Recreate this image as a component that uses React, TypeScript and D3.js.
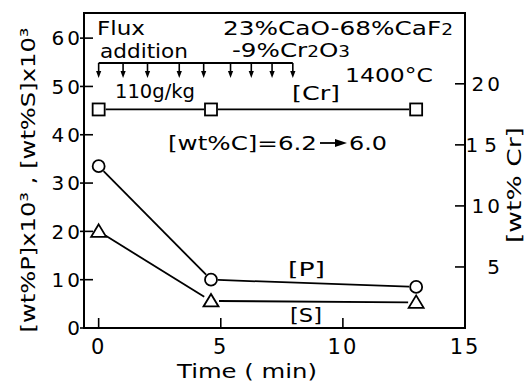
import * as d3 from "d3";

// sampling times (min)
const times = [0, 4.6, 13];
// [wt%P]x10^3 (circles)
const pValues = [33.5, 10.0, 8.5];
// [wt%S]x10^3 (triangles)
const sValues = [20.0, 5.6, 5.3];
// [wt%Cr] (squares, right axis)
const crValues = [17.9, 17.9, 17.9];
// times of the flux addition arrows
const fluxTimes = [0, 1, 2, 3.3, 4.3, 5.4, 6.25, 7.1, 7.95];

const xTicks = [0, 5, 10, 15];
const leftTicks = [0, 10, 20, 30, 40, 50, 60];
const rightTicks = [5, 10, 15, 20];

const W = 527;
const H = 383;
const frame = { left: 84, right: 465, top: 13, bottom: 328 };
const FONT = "'DejaVu Sans', sans-serif";

const x = d3.scaleLinear().domain([-0.6, 15]).range([frame.left, frame.right]);
const yL = d3.scaleLinear().domain([0, 65.2]).range([frame.bottom, frame.top]);
const yR = d3.scaleLinear().domain([0, 25.8]).range([frame.bottom, frame.top]);

// line segments between markers, shortened so they stop at the marker edge
const gapSegments = (pts: [number, number][], gap: number) =>
	d3.pairs(pts).map(([a, b]) => {
		const dx = b[0] - a[0];
		const dy = b[1] - a[1];
		const len = Math.hypot(dx, dy);
		const ux = dx / len;
		const uy = dy / len;
		return [a[0] + ux * gap, a[1] + uy * gap, b[0] - ux * gap, b[1] - uy * gap];
	});

const Label = ({
	x0,
	y0,
	len,
	size = 20,
	children,
}: {
	x0: number;
	y0: number;
	len: number;
	size?: number;
	children: any;
}) => (
	<text
		x={x0}
		y={y0}
		fontSize={size}
		fontFamily={FONT}
		textLength={len}
		lengthAdjust="spacingAndGlyphs"
		fill="#000"
	>
		{children}
	</text>
);

export default function App() {
	const pPts = times.map((t, i) => [x(t), yL(pValues[i])] as [number, number]);
	const sPts = times.map((t, i) => [x(t), yL(sValues[i])] as [number, number]);
	const crPts = times.map((t, i) => [x(t), yR(crValues[i])] as [number, number]);
	const fluxY = 63;

	return (
		<svg
			width={W}
			height={H}
			style={{ position: "absolute", left: 0, top: 0, background: "#fff" }}
		>
			{/* frame */}
			<rect
				x={frame.left}
				y={frame.top}
				width={frame.right - frame.left}
				height={frame.bottom - frame.top}
				fill="none"
				stroke="#000"
				strokeWidth={2}
			/>

			{/* left axis ticks */}
			{leftTicks.map((v) => (
				<g key={"l" + v}>
					<line x1={frame.left - 4} x2={frame.left + 9} y1={yL(v)} y2={yL(v)} stroke="#000" strokeWidth={1.6} />
					<text
						x={83}
						y={yL(v)}
						dy="0.36em"
						textAnchor="end"
						fontSize={20}
						letterSpacing={3}
						fontFamily={FONT}
					>
						{v}
					</text>
				</g>
			))}

			{/* right axis ticks */}
			{rightTicks.map((v) => (
				<g key={"r" + v}>
					<line x1={frame.right - 10} x2={frame.right} y1={yR(v)} y2={yR(v)} stroke="#000" strokeWidth={1.6} />
					<text
						x={503}
						y={yR(v)}
						dy="0.36em"
						textAnchor="end"
						fontSize={20}
						letterSpacing={v === 15 ? 6 : 3}
						fontFamily={FONT}
					>
						{v}
					</text>
				</g>
			))}

			{/* bottom axis ticks */}
			{xTicks.map((v) => (
				<g key={"x" + v}>
					{v < 15 && (
						<line x1={x(v)} x2={x(v)} y1={frame.bottom} y2={frame.bottom - 10} stroke="#000" strokeWidth={1.6} />
					)}
					<text
						x={x(v)}
						y={354}
						textAnchor="middle"
						fontSize={21}
						letterSpacing={2}
						fontFamily={FONT}
					>
						{v}
					</text>
				</g>
			))}

			{/* axis titles */}
			<text
				transform="translate(28,180) rotate(-90)"
				textAnchor="middle"
				dominantBaseline="central"
				fontSize={20}
				fontFamily={FONT}
				textLength={305}
				lengthAdjust="spacingAndGlyphs"
			>
				[wt%P]x10³ , [wt%S]x10³
			</text>
			<text
				transform="translate(514,185) rotate(-90)"
				textAnchor="middle"
				dominantBaseline="central"
				fontSize={19}
				fontFamily={FONT}
				textLength={116}
				lengthAdjust="spacingAndGlyphs"
			>
				[wt% Cr]
			</text>
			<Label x0={177} y0={378} len={140} size={19}>
				Time ( min)
			</Label>

			{/* flux addition */}
			<Label x0={97} y0={35} len={48}>Flux</Label>
			<Label x0={100} y0={58} len={88}>addition</Label>
			<line
				x1={x(fluxTimes[0])}
				x2={x(fluxTimes[fluxTimes.length - 1])}
				y1={fluxY}
				y2={fluxY}
				stroke="#000"
				strokeWidth={1.8}
			/>
			{fluxTimes.map((t, i) => (
				<g key={"f" + i}>
					<line x1={x(t)} x2={x(t)} y1={fluxY} y2={fluxY + 9} stroke="#000" strokeWidth={1.6} />
					<path
						d={`M${x(t) - 2.6},${fluxY + 8} L${x(t) + 2.6},${fluxY + 8} L${x(t)},${fluxY + 15} Z`}
						fill="#000"
					/>
				</g>
			))}

			{/* slag and conditions */}
			<Label x0={223} y0={35} len={230}>
				23%CaO-68%CaF<tspan fontSize={15}>2</tspan>
			</Label>
			<Label x0={232} y0={57} len={118}>
				-9%Cr<tspan fontSize={15}>2</tspan>O<tspan fontSize={15}>3</tspan>
			</Label>
			<Label x0={345} y0={82} len={88}>1400°C</Label>
			<Label x0={115} y0={98} len={80}>110g/kg</Label>
			<Label x0={292} y0={100} len={48}>[Cr]</Label>
			<Label x0={168} y0={150} len={149}>[wt%C]=6.2</Label>
			<line x1={320} x2={338} y1={143} y2={143} stroke="#000" strokeWidth={1.8} />
			<path d="M335,139 L347,143 L335,147 Z" fill="#000" />
			<Label x0={349} y0={150} len={38}>6.0</Label>
			<Label x0={288} y0={276} len={37}>[P]</Label>
			<Label x0={290} y0={322} len={32}>[S]</Label>

			{/* connecting lines */}
			{gapSegments(crPts, 7).map((s, i) => (
				<line key={"cl" + i} x1={s[0]} y1={s[1]} x2={s[2]} y2={s[3]} stroke="#000" strokeWidth={1.8} />
			))}
			{gapSegments(pPts, 7).map((s, i) => (
				<line key={"pl" + i} x1={s[0]} y1={s[1]} x2={s[2]} y2={s[3]} stroke="#000" strokeWidth={1.8} />
			))}
			{gapSegments(sPts, 8).map((s, i) => (
				<line key={"sl" + i} x1={s[0]} y1={s[1]} x2={s[2]} y2={s[3]} stroke="#000" strokeWidth={1.8} />
			))}

			{/* markers */}
			{crPts.map(([cx, cy], i) => (
				<rect key={"cr" + i} x={cx - 6} y={cy - 6} width={12} height={12} fill="#fff" stroke="#000" strokeWidth={1.8} />
			))}
			{pPts.map(([cx, cy], i) => (
				<circle key={"p" + i} cx={cx} cy={cy} r={6} fill="#fff" stroke="#000" strokeWidth={1.8} />
			))}
			{sPts.map(([cx, cy], i) => (
				<path
					key={"s" + i}
					d={`M${cx},${cy - 7} L${cx + 7.5},${cy + 5.5} L${cx - 7.5},${cy + 5.5} Z`}
					fill="#fff"
					stroke="#000"
					strokeWidth={1.8}
				/>
			))}
		</svg>
	);
}
